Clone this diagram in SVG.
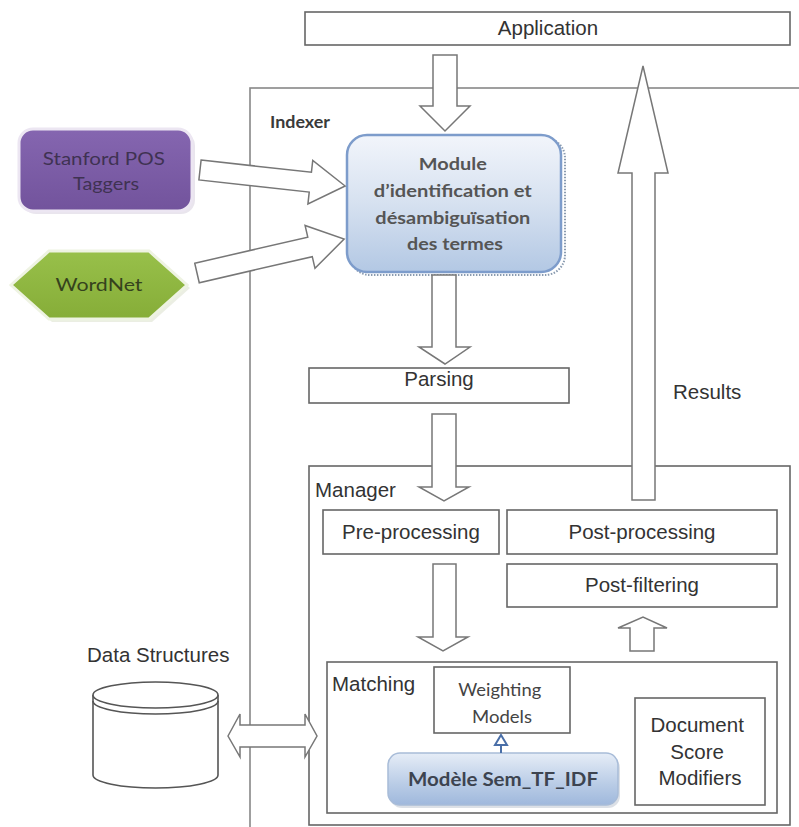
<svg xmlns="http://www.w3.org/2000/svg" width="799" height="827" viewBox="0 0 799 827">
<defs>
<linearGradient id="gMod" x1="0" y1="0" x2="0" y2="1">
<stop offset="0" stop-color="#f2f5fb"/>
<stop offset="0.5" stop-color="#d6e1f0"/>
<stop offset="1" stop-color="#b3c8e4"/>
</linearGradient>
<linearGradient id="gSem" x1="0" y1="0" x2="0" y2="1">
<stop offset="0" stop-color="#e6edf7"/>
<stop offset="0.6" stop-color="#b9cce6"/>
<stop offset="1" stop-color="#9fb8dc"/>
</linearGradient>
<linearGradient id="gPur" x1="0" y1="0" x2="0" y2="1">
<stop offset="0" stop-color="#8566b0"/>
<stop offset="1" stop-color="#72539c"/>
</linearGradient>
<linearGradient id="gGrn" x1="0" y1="0" x2="0" y2="1">
<stop offset="0" stop-color="#98c04a"/>
<stop offset="1" stop-color="#86ad38"/>
</linearGradient>
</defs>
<style>
.box{fill:#fff;stroke:#666;stroke-width:1.6}
.frame{fill:none;stroke:#888;stroke-width:1.6}
.blk{fill:#fff;stroke:#777;stroke-width:1.5;stroke-linejoin:miter}
.a{font-family:"Liberation Sans",Arial,sans-serif;font-size:20.5px;fill:#333}
.c{font-family:Lato,"Open Sans",sans-serif;font-weight:bold;fill:#555}
</style>
<rect width="799" height="827" fill="#fff"/>

<g id="indexer">
<rect class="frame" x="250" y="88" width="600" height="800"/>
<text class="c" x="270" y="128" font-size="17" textLength="60" lengthAdjust="spacingAndGlyphs" style="fill:#3a3a3a">Indexer</text>
</g>

<g id="application">
<rect class="box" x="305" y="12" width="485" height="33"/>
<text class="a" x="548" y="35" text-anchor="middle">Application</text>
</g>

<g id="module">
<rect x="350" y="138" width="215" height="137" rx="20" fill="none" stroke="#8a9bb0" stroke-width="2" stroke-dasharray="1.5 1.5"/>
<rect x="347" y="135" width="214" height="137" rx="20" fill="url(#gMod)" stroke="#7d9ccb" stroke-width="2.5"/>
<text class="c" font-size="17.5" text-anchor="middle">
<tspan x="455" y="170" textLength="68" lengthAdjust="spacingAndGlyphs">Module</tspan>
<tspan x="455" y="197" textLength="158" lengthAdjust="spacingAndGlyphs">d’identification et</tspan>
<tspan x="455" y="224" textLength="155" lengthAdjust="spacingAndGlyphs">désambiguïsation</tspan>
<tspan x="455" y="250" textLength="96" lengthAdjust="spacingAndGlyphs">des termes</tspan>
</text>
</g>

<g id="stanford">
<rect x="22" y="132" width="173" height="82" rx="14" fill="#e4dfe8" opacity="0.8"/>
<rect x="19" y="129" width="173" height="82" rx="14" fill="url(#gPur)" stroke="#ece6f2" stroke-width="3"/>
<text font-family="Lato,'Open Sans',sans-serif" font-size="17" fill="#3f3252" text-anchor="middle">
<tspan x="106" y="165" textLength="122" lengthAdjust="spacingAndGlyphs">Stanford POS</tspan>
<tspan x="106" y="190" textLength="66" lengthAdjust="spacingAndGlyphs">Taggers</tspan>
</text>
</g>

<g id="wordnet">
<polygon points="14,288 52,254 152,254 190,288 152,322 52,322" fill="#e6eadc" opacity="0.8"/>
<polygon points="11,285 49,251 149,251 187,285 149,319 49,319" fill="url(#gGrn)" stroke="#eef3e2" stroke-width="3"/>
<text font-family="Lato,'Open Sans',sans-serif" font-size="17" fill="#35421d" x="99" y="291" text-anchor="middle" textLength="87" lengthAdjust="spacingAndGlyphs">WordNet</text>
</g>

<g id="parsing">
<rect class="box" x="309" y="368" width="260" height="35"/>
<text class="a" x="439" y="386" text-anchor="middle">Parsing</text>
</g>

<g id="manager">
<rect class="box" x="309" y="466" width="481" height="359"/>
<text class="a" x="315" y="497">Manager</text>
</g>

<g id="preprocessing">
<rect class="box" x="323" y="510" width="176" height="44"/>
<text class="a" x="411" y="539" text-anchor="middle">Pre-processing</text>
</g>

<g id="postprocessing">
<rect class="box" x="507" y="510" width="270" height="44"/>
<text class="a" x="642" y="539" text-anchor="middle">Post-processing</text>
</g>

<g id="postfiltering">
<rect class="box" x="507" y="564" width="270" height="43"/>
<text class="a" x="642" y="592" text-anchor="middle">Post-filtering</text>
</g>

<g id="matching">
<rect class="box" x="327" y="662" width="450" height="151"/>
<text class="a" x="332" y="691">Matching</text>
</g>

<g id="weighting">
<rect class="box" x="434" y="667" width="136" height="66"/>
<text font-family="Lato,'Open Sans',sans-serif" font-size="17.5" fill="#444" text-anchor="middle">
<tspan x="502" y="696" textLength="83" lengthAdjust="spacingAndGlyphs">Weighting</tspan>
<tspan x="502" y="723" textLength="60" lengthAdjust="spacingAndGlyphs">Models</tspan>
</text>
</g>

<g id="docscore">
<rect class="box" x="635" y="698" width="130" height="107"/>
<text class="a" text-anchor="middle">
<tspan x="700" y="732">Document</tspan>
<tspan x="700" y="759">Score</tspan>
<tspan x="700" y="785">Modifiers</tspan>
</text>
</g>

<g id="semtfidf">
<rect x="390" y="756" width="230" height="52" rx="12" fill="#c5ccd6" opacity="0.6"/>
<rect x="388" y="753" width="230" height="52" rx="12" fill="url(#gSem)" stroke="#a8bcd8" stroke-width="1.5"/>
<text class="c" font-size="18" x="503" y="786" text-anchor="middle" textLength="190" lengthAdjust="spacingAndGlyphs" style="fill:#3d4450">Modèle Sem_TF_IDF</text>
</g>

<g id="datastructures">
<text class="a" x="87" y="662">Data Structures</text>
<path d="M93,695 L93,775 A62.5,13 0 0 0 218,775 L218,695" fill="#fff" stroke="#555" stroke-width="1.6"/>
<ellipse cx="155.5" cy="695" rx="62.5" ry="13" fill="#fff" stroke="#555" stroke-width="1.6"/>
<path d="M93,701 A62.5,13 0 0 0 218,701" fill="none" stroke="#555" stroke-width="1.6"/>
</g>

<g id="connectors">
<polygon class="blk" points="433,55 457,55 457,106 470,106 445,131 420,106 433,106"/>
<polygon class="blk" points="432,275 456,275 456,347 470,347 445,364 419,347 432,347"/>
<polygon class="blk" points="432,414 456,414 456,487 469,487 444,501 419,487 432,487"/>
<polygon class="blk" points="433,564 456,564 456,637 468,637 443,651 418,637 433,637"/>
<polygon class="blk" points="630,651 654,651 654,628 667,628 643,617 618,628 630,628"/>
<polygon class="blk" points="632,500 655,500 655,173 668,173 643,66 618,173 632,173"/>
<text class="a" x="673" y="399">Results</text>
<polygon class="blk" transform="translate(200,170) rotate(6.3)" points="0,-10 111,-10 111,-22 146,0 111,22 111,10 0,10"/>
<polygon class="blk" transform="translate(197,273) rotate(-13)" points="0,-10 116,-10 116,-22 151,0 116,22 116,10 0,10"/>
<line x1="501" y1="753" x2="501" y2="744" stroke="#4a6fa8" stroke-width="2"/>
<polygon points="501,735 507,745 495,745" fill="#fff" stroke="#4a6fa8" stroke-width="2"/>
<polygon class="blk" points="228,736 240,714 240,725 305,725 305,714 317,736 305,757 305,747 240,747 240,757"/>
</g>
</svg>
